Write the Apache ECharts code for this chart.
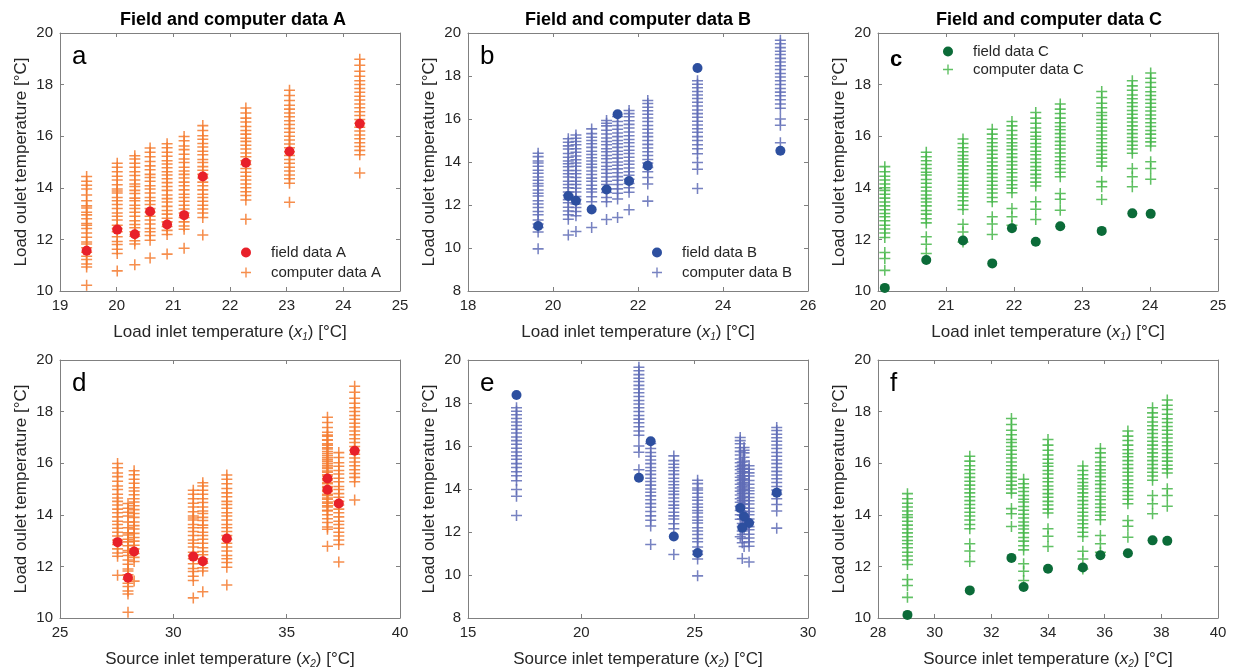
<!DOCTYPE html>
<html>
<head>
<meta charset="utf-8">
<script src="https://cdn.jsdelivr.net/npm/echarts@6/dist/echarts.min.js"></script>
<style>
  html, body { margin: 0; padding: 0; background: #fff; }
  #chart { width: 1233px; height: 672px; }
</style>
</head>
<body>
<div id="chart"></div>
<script>
// --- data A (field points + computer columns, one column per field point)
const fieldA_x1 = [19.47, 20.01, 20.32, 20.59, 20.89, 21.19, 21.52, 22.28, 23.05, 24.29];
const fieldA_x2 = [28.0, 30.88, 31.3, 32.36, 28.27, 27.54, 37.3, 36.8, 36.8, 38.0];
const fieldA_y  = [11.56, 12.38, 12.2, 13.08, 12.58, 12.94, 14.44, 14.97, 15.41, 16.48];
const compA = [
  [10.22, 10.93, 11.05, 11.22, 11.35, 11.5, 11.68, 11.82, 11.9, 12.08, 12.25, 12.42, 12.55, 12.62, 12.8, 12.95, 13.05, 13.22, 13.3, 13.5, 13.72, 13.95, 14.1, 14.25, 14.44],
  [10.78, 11.45, 11.62, 11.8, 11.92, 12.1, 12.3, 12.42, 12.55, 12.75, 12.9, 13.02, 13.2, 13.35, 13.5, 13.62, 13.8, 13.88, 13.95, 14.12, 14.3, 14.45, 14.62, 14.8, 14.95],
  [11.02, 11.82, 11.95, 12.12, 12.3, 12.45, 12.58, 12.72, 12.9, 13.05, 13.2, 13.32, 13.5, 13.6, 13.78, 13.9, 14.05, 14.15, 14.3, 14.48, 14.62, 14.8, 14.95, 15.12, 15.24],
  [11.28, 11.97, 12.15, 12.3, 12.42, 12.6, 12.75, 12.9, 13.05, 13.2, 13.35, 13.5, 13.62, 13.8, 13.95, 14.08, 14.25, 14.4, 14.52, 14.7, 14.85, 15.02, 15.2, 15.38, 15.54],
  [11.43, 12.19, 12.35, 12.5, 12.68, 12.82, 12.98, 13.12, 13.28, 13.45, 13.58, 13.72, 13.9, 14.05, 14.2, 14.35, 14.5, 14.62, 14.78, 14.92, 15.05, 15.22, 15.38, 15.55, 15.71],
  [11.66, 12.39, 12.52, 12.68, 12.85, 13.02, 13.18, 13.32, 13.48, 13.62, 13.75, 13.92, 14.08, 14.22, 14.38, 14.52, 14.65, 14.8, 14.98, 15.12, 15.3, 15.48, 15.62, 15.82, 15.99],
  [12.17, 12.85, 13.02, 13.18, 13.32, 13.48, 13.62, 13.75, 13.92, 14.08, 14.22, 14.38, 14.52, 14.68, 14.82, 14.98, 15.1, 15.28, 15.42, 15.58, 15.72, 15.88, 16.02, 16.22, 16.41],
  [12.78, 13.53, 13.7, 13.85, 14.0, 14.15, 14.3, 14.45, 14.6, 14.75, 14.9, 15.05, 15.2, 15.35, 15.5, 15.65, 15.8, 15.92, 16.08, 16.22, 16.38, 16.55, 16.7, 16.9, 17.09],
  [13.44, 14.18, 14.35, 14.5, 14.65, 14.8, 14.95, 15.1, 15.25, 15.4, 15.55, 15.7, 15.85, 16.0, 16.15, 16.3, 16.45, 16.6, 16.75, 16.9, 17.05, 17.2, 17.38, 17.58, 17.78],
  [14.57, 15.28, 15.45, 15.6, 15.75, 15.9, 16.05, 16.2, 16.35, 16.5, 16.65, 16.8, 16.95, 17.1, 17.25, 17.4, 17.55, 17.7, 17.85, 18.0, 18.15, 18.32, 18.52, 18.75, 18.98]
];

// --- data B
const fieldB_x1 = [19.65, 20.36, 20.54, 20.91, 21.26, 21.52, 21.79, 22.23, 23.40, 25.35];
const fieldB_x2 = [25.13, 27.4, 27.1, 24.08, 27.18, 23.06, 27.01, 28.62, 17.14, 22.54];
const fieldB_y  = [11.02, 12.42, 12.2, 11.79, 12.72, 16.22, 13.12, 13.83, 18.37, 14.52];
const compB = [
  [9.96, 10.74, 10.95, 11.12, 11.3, 11.55, 11.7, 11.88, 12.05, 12.2, 12.42, 12.55, 12.7, 12.88, 13.0, 13.15, 13.3, 13.48, 13.62, 13.8, 13.95, 14.05, 14.25, 14.41],
  [10.6, 11.34, 11.55, 11.72, 11.9, 12.1, 12.25, 12.45, 12.6, 12.8, 12.95, 13.1, 13.3, 13.45, 13.6, 13.78, 13.92, 14.05, 14.22, 14.4, 14.6, 14.75, 14.92, 15.08],
  [10.77, 11.5, 11.7, 11.88, 12.05, 12.25, 12.4, 12.6, 12.78, 12.95, 13.1, 13.28, 13.45, 13.6, 13.8, 13.95, 14.1, 14.28, 14.45, 14.62, 14.8, 14.95, 15.1, 15.26],
  [10.95, 12.15, 12.38, 12.6, 12.75, 12.92, 13.1, 13.25, 13.42, 13.58, 13.75, 13.9, 14.05, 14.2, 14.35, 14.5, 14.68, 14.85, 15.0, 15.15, 15.32, 15.54],
  [11.33, 12.15, 12.35, 12.58, 12.75, 12.95, 13.1, 13.3, 13.48, 13.65, 13.8, 13.98, 14.15, 14.3, 14.48, 14.62, 14.8, 14.95, 15.12, 15.3, 15.48, 15.68, 15.8, 15.93],
  [11.42, 12.28, 12.55, 12.75, 12.95, 13.15, 13.32, 13.5, 13.68, 13.85, 14.0, 14.18, 14.35, 14.5, 14.68, 14.85, 15.0, 15.18, 15.35, 15.52, 15.7, 15.88, 16.12],
  [11.78, 12.59, 12.8, 13.0, 13.2, 13.38, 13.55, 13.72, 13.9, 14.05, 14.22, 14.4, 14.55, 14.72, 14.9, 15.05, 15.22, 15.4, 15.58, 15.75, 15.92, 16.1, 16.25, 16.4],
  [12.18, 12.98, 13.28, 13.55, 13.75, 13.95, 14.12, 14.3, 14.48, 14.65, 14.82, 15.0, 15.18, 15.35, 15.52, 15.7, 15.88, 16.05, 16.22, 16.38, 16.55, 16.72, 16.86],
  [12.77, 13.66, 13.98, 14.38, 14.62, 14.8, 15.0, 15.18, 15.38, 15.55, 15.72, 15.9, 16.08, 16.25, 16.42, 16.6, 16.78, 16.95, 17.12, 17.28, 17.45, 17.62, 17.78],
  [14.9, 15.71, 16.0, 16.5, 16.7, 16.9, 17.08, 17.25, 17.42, 17.6, 17.78, 17.95, 18.12, 18.3, 18.48, 18.65, 18.82, 19.0, 19.15, 19.32, 19.5, 19.66]
];

// --- data C
const fieldC_x1 = [20.10, 20.71, 21.25, 21.68, 21.97, 22.32, 22.68, 23.29, 23.74, 24.01];
const fieldC_x2 = [29.04, 33.14, 35.23, 31.24, 35.85, 34.0, 36.82, 32.71, 37.69, 38.21];
const fieldC_y  = [10.12, 11.2, 11.96, 11.07, 12.43, 11.91, 12.51, 12.33, 13.01, 12.99];
const compC = [
  [10.8, 11.26, 11.49, 12.07, 12.25, 12.4, 12.55, 12.72, 12.88, 13.0, 13.15, 13.3, 13.45, 13.6, 13.75, 13.9, 14.0, 14.15, 14.3, 14.45, 14.62, 14.82],
  [11.45, 11.81, 12.1, 12.64, 12.8, 12.98, 13.12, 13.3, 13.45, 13.58, 13.72, 13.88, 14.02, 14.18, 14.32, 14.5, 14.6, 14.75, 14.9, 15.05, 15.2, 15.38],
  [11.9, 12.29, 12.59, 13.16, 13.32, 13.5, 13.65, 13.8, 13.95, 14.1, 14.25, 14.4, 14.55, 14.7, 14.85, 15.0, 15.12, 15.25, 15.4, 15.55, 15.72, 15.89],
  [12.19, 12.6, 12.88, 13.46, 13.62, 13.8, 13.95, 14.1, 14.25, 14.4, 14.55, 14.7, 14.85, 15.0, 15.15, 15.3, 15.45, 15.6, 15.75, 15.9, 16.08, 16.27],
  [12.55, 12.88, 13.2, 13.81, 13.98, 14.12, 14.28, 14.42, 14.58, 14.72, 14.88, 15.02, 15.18, 15.32, 15.48, 15.62, 15.75, 15.9, 16.05, 16.22, 16.4, 16.57],
  [12.77, 13.17, 13.46, 14.07, 14.22, 14.38, 14.52, 14.68, 14.82, 14.98, 15.12, 15.28, 15.42, 15.58, 15.72, 15.88, 16.0, 16.15, 16.32, 16.5, 16.7, 16.92],
  [13.13, 13.56, 13.78, 14.43, 14.6, 14.75, 14.9, 15.05, 15.2, 15.35, 15.5, 15.65, 15.8, 15.95, 16.1, 16.25, 16.38, 16.52, 16.7, 16.88, 17.05, 17.25],
  [13.55, 14.04, 14.24, 14.84, 15.0, 15.15, 15.3, 15.45, 15.6, 15.75, 15.9, 16.05, 16.2, 16.35, 16.5, 16.65, 16.8, 16.92, 17.1, 17.28, 17.5, 17.73],
  [14.04, 14.43, 14.75, 15.34, 15.5, 15.65, 15.8, 15.95, 16.1, 16.25, 16.4, 16.55, 16.7, 16.85, 17.0, 17.15, 17.3, 17.45, 17.6, 17.78, 17.95, 18.15],
  [14.33, 14.75, 15.01, 15.62, 15.78, 15.92, 16.08, 16.22, 16.38, 16.52, 16.68, 16.82, 16.98, 17.12, 17.28, 17.42, 17.58, 17.72, 17.9, 18.08, 18.25, 18.45]
];

const FONT = 'Liberation Sans, Arial, Helvetica, sans-serif';
const PLUS = 'path://M4.3,0h1.4v4.3h4.3v1.4h-4.3v4.3h-1.4v-4.3h-4.3v-1.4h4.3z';
const AXIS_COLOR = '#808080';

// panel layout: grid left/top + axis ranges
const panels = [
  { left: 60,  top: 33,  xMin: 19, xMax: 25, xStep: 1, yMin: 10, fx: fieldA_x1, fy: fieldA_y, comp: compA, dot: '#e8202a', plus: '#f47a2e', name: 'A', letter: 'a', row: 0 },
  { left: 468, top: 33,  xMin: 18, xMax: 26, xStep: 2, yMin: 8,  fx: fieldB_x1, fy: fieldB_y, comp: compB, dot: '#2d4f9f', plus: '#5f6cb6', name: 'B', letter: 'b', row: 0 },
  { left: 878, top: 33,  xMin: 20, xMax: 25, xStep: 1, yMin: 10, fx: fieldC_x1, fy: fieldC_y, comp: compC, dot: '#0b6b38', plus: '#45b649', name: 'C', letter: 'c', row: 0 },
  { left: 60,  top: 360, xMin: 25, xMax: 40, xStep: 5, yMin: 10, fx: fieldA_x2, fy: fieldA_y, comp: compA, dot: '#e8202a', plus: '#f47a2e', name: 'A', letter: 'd', row: 1 },
  { left: 468, top: 360, xMin: 15, xMax: 30, xStep: 5, yMin: 8,  fx: fieldB_x2, fy: fieldB_y, comp: compB, dot: '#2d4f9f', plus: '#5f6cb6', name: 'B', letter: 'e', row: 1 },
  { left: 878, top: 360, xMin: 28, xMax: 40, xStep: 2, yMin: 10, fx: fieldC_x2, fy: fieldC_y, comp: compC, dot: '#0b6b38', plus: '#45b649', name: 'C', letter: 'f', row: 1 }
];

const xNames = [
  'Load inlet temperature ({i|x}{s|1}) [°C]',
  'Source inlet temperature ({i|x}{s|2}) [°C]'
];
const nameStyle = {
  fontFamily: FONT, fontSize: 17, color: '#262626', lineHeight: 20,
  rich: {
    i: { fontFamily: FONT, fontSize: 17, fontStyle: 'italic', color: '#262626', lineHeight: 20 },
    s: { fontFamily: FONT, fontSize: 10, fontStyle: 'italic', color: '#262626', lineHeight: 10, verticalAlign: 'bottom' }
  }
};

const grid = [], xAxis = [], yAxis = [], series = [], graphic = [];

const lineStyle = { lineStyle: { color: AXIS_COLOR, width: 1 } };
const tickStyle = { show: true, inside: true, length: 4, lineStyle: { color: AXIS_COLOR } };
const labelStyle = { fontFamily: FONT, fontSize: 15, color: '#262626' };

panels.forEach((p, i) => {
  grid.push({ left: p.left, top: p.top, width: 340, height: 258 });

  // bottom + top x axis (box)
  xAxis.push({
    gridIndex: i, type: 'value', min: p.xMin, max: p.xMax, interval: p.xStep,
    axisLine: lineStyle, axisTick: tickStyle, splitLine: { show: false },
    axisLabel: Object.assign({ margin: 7 }, labelStyle),
    name: xNames[p.row], nameLocation: 'middle', nameGap: 31, nameTextStyle: nameStyle
  });
  xAxis.push({
    gridIndex: i, type: 'value', position: 'top', min: p.xMin, max: p.xMax, interval: p.xStep,
    axisLine: lineStyle, axisTick: tickStyle, splitLine: { show: false }, axisLabel: { show: false }
  });
  // left + right y axis
  yAxis.push({
    gridIndex: i, type: 'value', min: p.yMin, max: 20, interval: 2,
    axisLine: lineStyle, axisTick: tickStyle, splitLine: { show: false },
    axisLabel: Object.assign({ margin: 7 }, labelStyle),
    name: 'Load oulet temperature [°C]', nameLocation: 'middle', nameGap: 30,
    nameTextStyle: { fontFamily: FONT, fontSize: 17, color: '#262626' }
  });
  yAxis.push({
    gridIndex: i, type: 'value', position: 'right', min: p.yMin, max: 20, interval: 2,
    axisLine: lineStyle, axisTick: tickStyle, splitLine: { show: false }, axisLabel: { show: false }
  });

  const compPts = [];
  p.comp.forEach((col, j) => {
    col.forEach(y => compPts.push([p.fx[j], y]));
  });

  series.push({
    type: 'scatter', name: 'computer data ' + p.name,
    xAxisIndex: i * 2, yAxisIndex: i * 2,
    symbol: PLUS, symbolSize: 11,
    itemStyle: { color: p.plus, opacity: 0.85 },
    data: compPts, silent: true
  });
  series.push({
    type: 'scatter', name: 'field data ' + p.name,
    xAxisIndex: i * 2, yAxisIndex: i * 2,
    symbol: 'circle', symbolSize: 10,
    itemStyle: { color: p.dot, opacity: 1 },
    data: p.fx.map((x, j) => [x, p.fy[j]]), silent: true
  });

  // panel letter
  const cBold = p.letter === 'c';
  graphic.push({
    type: 'text', left: p.left + 12, top: p.top + (cBold ? 16 : 11),
    style: { text: p.letter, font: (cBold ? 'bold 22px ' : '26px ') + FONT, fill: '#000' }
  });
});

// column titles
['A', 'B', 'C'].forEach((n, k) => {
  graphic.push({
    type: 'text', x: [233, 638, 1049][k], y: 20,
    style: { text: 'Field and computer data ' + n, font: 'bold 18px ' + FONT, fill: '#000', align: 'center', verticalAlign: 'middle' }
  });
});

const legendPos = [
  { left: 241, top: 245, gap: 5 },
  { left: 652, top: 245, gap: 5 },
  { left: 943, top: 44, gap: 3 }
];
const legend = ['A', 'B', 'C'].map((n, k) => ({
  orient: 'vertical', left: legendPos[k].left, top: legendPos[k].top,
  padding: 0, itemWidth: 40, itemHeight: 10, itemGap: legendPos[k].gap,
  textStyle: { fontFamily: FONT, fontSize: 15, color: '#262626' },
  selectedMode: false,
  data: [
    { name: 'field data ' + n, icon: 'circle' },
    { name: 'computer data ' + n, icon: PLUS }
  ]
}));

const chart = echarts.init(document.getElementById('chart'));
chart.setOption({
  animation: false,
  backgroundColor: '#fff',
  grid, xAxis, yAxis, series, legend, graphic
});
</script>
</body>
</html>
